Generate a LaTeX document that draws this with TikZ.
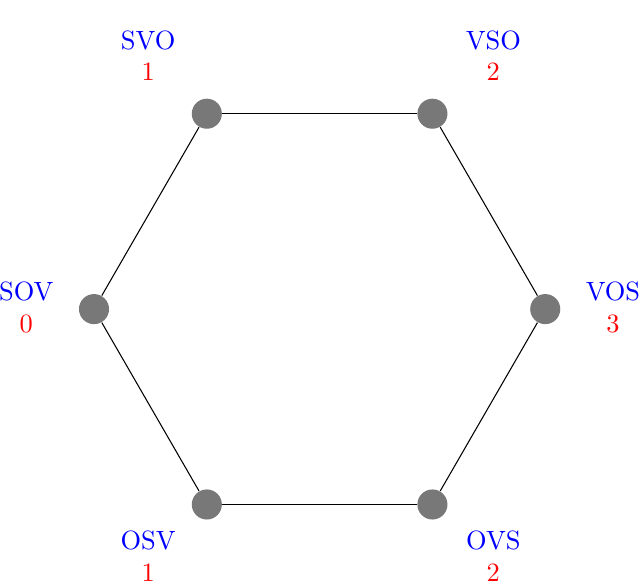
\documentclass[tikz,border=0pt]{standalone}
\usepackage{tikz}
\newcommand{\wlab}[2]{\textcolor{blue}{#1}\\\textcolor{red}{#2}}
\tikzset{
  vtx/.style={circle,fill=black!53,inner sep=0pt,minimum size=4mm},
  wordorder/.style={align=center,inner sep=1pt}
}

\begin{document}
\begin{tikzpicture}
\useasboundingbox (-4.25,-3.62) rectangle (4.26,4.11);
%vertices of the hexagon
\node[vtx] (svo) at (-1.5, 2.598) {};
\node[vtx] (vso) at ( 1.5, 2.598) {};
\node[vtx] (vos) at ( 3,   0) {};
\node[vtx] (ovs) at ( 1.5,-2.598) {};
\node[vtx] (osv) at (-1.5,-2.598) {};
\node[vtx] (sov) at (-3,   0) {};
%edges
\draw (svo) -- (vso);
\draw (vso) -- (vos);
\draw (vos) -- (ovs);
\draw (ovs) -- (osv);
\draw (osv) -- (sov);
\draw (sov) -- (svo);
%labels
\node[wordorder] (lsvo) at (-2.28, 3.37) {\wlab{SVO}{1}};
\node[wordorder] (lvso) at ( 2.31, 3.37) {\wlab{VSO}{2}};
\node[wordorder] (lvos) at ( 3.9,  0.02) {\wlab{VOS}{3}};
\node[wordorder] (lovs) at ( 2.31,-3.29) {\wlab{OVS}{2}};
\node[wordorder] (losv) at (-2.28,-3.29) {\wlab{OSV}{1}};
\node[wordorder] (lsov) at (-3.9,  0.02) {\wlab{SOV}{0}};
\end{tikzpicture}
\end{document}
